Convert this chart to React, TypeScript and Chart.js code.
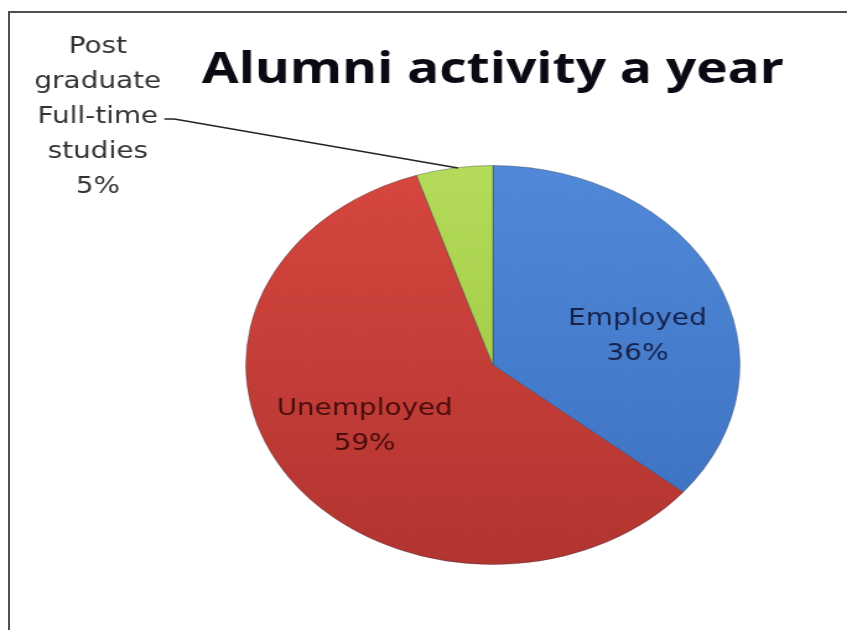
import React, { useEffect, useRef } from "react";
import { Chart, registerables } from "chart.js";

Chart.register(...registerables);

// ---- data ----
const TITLE = "Alumni activity a year";
const categories = ["Employed", "Unemployed", "Post graduate Full-time studies"];
const labelLines = [["Employed"], ["Unemployed"], ["Post", "graduate", "Full-time", "studies"]];
const values = [36, 59, 5];
const percentLabels = ["36%", "59%", "5%"];
const topColors = ["#5189d8", "#d6473f", "#b4dc5a"];
const bottomColors = ["#3a70bf", "#b23430", "#96c03c"];
const textColors = ["#16224c", "#480c0c", "#333333"];

// canvas drawn narrower then stretched horizontally (like the reference image)
const CANVAS_W = 684;
const CANVAS_H = 630;

const labelsPlugin = {
  id: "pieLabels",
  afterDatasetsDraw(chart: any) {
    const ctx = chart.ctx as CanvasRenderingContext2D;
    const arcs = chart.getDatasetMeta(0).data as any[];
    if (!arcs.length) return;
    const cx = arcs[0].x;
    const cy = arcs[0].y;
    const R = arcs[0].outerRadius;
    ctx.save();

    // title
    ctx.font = "700 43px 'Open Sans'";
    ctx.fillStyle = "#0a0a14";
    ctx.textAlign = "center";
    ctx.textBaseline = "alphabetic";
    ctx.fillText(TITLE, cx, 83);

    ctx.font = "22.5px 'DejaVu Sans'";

    // inside labels
    const nudges = [
      [8.5, 21],
      [-4.5, -7.5],
    ];
    for (let i = 0; i < 2; i++) {
      const a = arcs[i];
      const mid = (a.startAngle + a.endAngle) / 2;
      const px = cx + Math.cos(mid) * R * 0.6 + nudges[i][0];
      const py = cy + Math.sin(mid) * R * 0.6 + nudges[i][1];
      ctx.fillStyle = textColors[i];
      ctx.fillText(labelLines[i][0], px, py - 10);
      ctx.fillText(percentLabels[i], px, py + 25);
    }

    // outside label for small slice
    const a2 = arcs[2];
    const mid2 = (a2.startAngle + a2.endAngle) / 2;
    const lx = 79;
    const lines = [...labelLines[2], percentLabels[2]];
    ctx.fillStyle = textColors[2];
    lines.forEach((t, k) => ctx.fillText(t, lx, 53 + 35 * k));
    const wFull = ctx.measureText(labelLines[2][2]).width;
    const sx = lx + wFull / 2 + 5;
    const sy = 119;
    const ex = cx + Math.cos(mid2) * R;
    const ey = cy + Math.sin(mid2) * R;
    ctx.strokeStyle = "#222";
    ctx.lineWidth = 1.4;
    ctx.beginPath();
    ctx.moveTo(sx, sy);
    ctx.lineTo(sx + 8, sy);
    ctx.lineTo(ex + 3, ey);
    ctx.stroke();

    ctx.restore();
  },
};

function sliceFill(c: any) {
  const i = c.dataIndex ?? 0;
  const chart = c.chart;
  const area = chart.chartArea;
  if (!area) return topColors[i];
  const g = chart.ctx.createLinearGradient(0, area.top, 0, area.bottom);
  g.addColorStop(0, topColors[i]);
  g.addColorStop(1, bottomColors[i]);
  return g;
}

export default function App() {
  const ref = useRef<HTMLCanvasElement | null>(null);

  useEffect(() => {
    const canvas = ref.current;
    if (!canvas) return;
    const chart = new Chart(canvas, {
      type: "pie",
      data: {
        labels: categories,
        datasets: [
          {
            data: values,
            backgroundColor: sliceFill as any,
            borderColor: "rgba(40,40,60,0.35)",
            borderWidth: 1,
          },
        ],
      },
      options: {
        animation: false,
        responsive: false,
        devicePixelRatio: 1,
        events: [],
        layout: { padding: { left: 198, right: 86, top: 165, bottom: 65 } },
        plugins: {
          legend: { display: false },
          tooltip: { enabled: false },
          title: { display: false },
        },
      },
      plugins: [labelsPlugin],
    });
    return () => chart.destroy();
  }, []);

  return (
    <div
      style={{
        position: "fixed",
        left: 0,
        top: 0,
        width: 847,
        height: 630,
        background: "#ffffff",
        overflow: "hidden",
      }}
    >
      <canvas
        ref={ref}
        width={CANVAS_W}
        height={CANVAS_H}
        style={{ position: "absolute", left: 0, top: 0, width: "847px", height: "630px" }}
      />
      <div
        style={{
          position: "absolute",
          left: 8,
          top: 11,
          width: 860,
          height: 640,
          borderLeft: "2px solid #505050",
          borderTop: "2px solid #505050",
          pointerEvents: "none",
        }}
      />
    </div>
  );
}
